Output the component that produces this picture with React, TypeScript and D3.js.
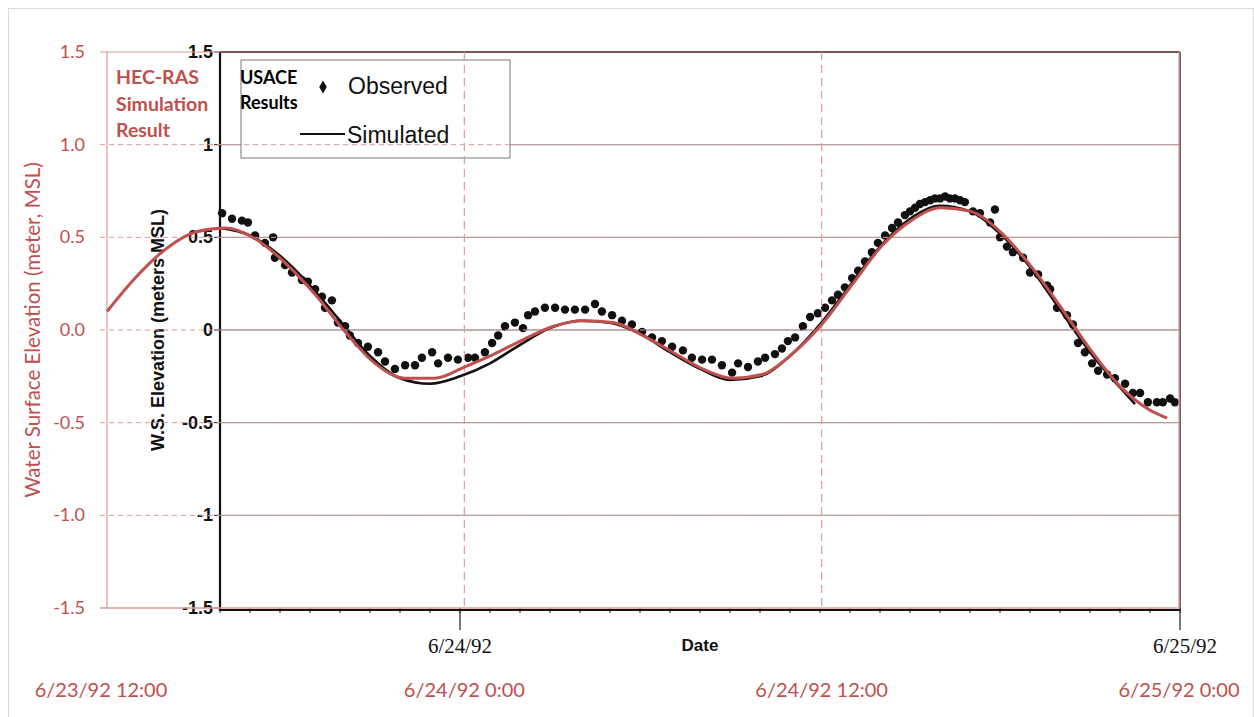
import React from 'react';
import * as d3 from 'd3';

// USACE simulated water surface (hours after 6/23/92 16:00, metres MSL)
const simHours = [0, 1, 2, 3, 4, 5, 6, 7, 8, 9, 10, 11, 12, 13, 14, 15, 16, 17, 18, 19, 20, 21, 22, 23, 24, 25, 26, 27, 28, 29, 30, 30.5];
const simValues = [0.55, 0.51, 0.40, 0.24, 0.05, -0.14, -0.26, -0.29, -0.25, -0.18, -0.08, 0.01, 0.05, 0.04, -0.02, -0.12, -0.21, -0.27, -0.25, -0.14, 0.03, 0.24, 0.45, 0.60, 0.67, 0.64, 0.52, 0.34, 0.11, -0.12, -0.31, -0.40];

// USACE observed points (hours after 6/23/92 16:00)
const obsHours = [0.07, 0.4, 0.73, 0.93, 1.17, 1.5, 1.77, 1.83, 2.17, 2.4, 2.73, 2.93, 3.17, 3.4, 3.5, 3.73, 3.93, 4.17, 4.33, 4.6, 4.93, 5.27, 5.5, 5.83, 6.17, 6.5, 6.73, 7.07, 7.27, 7.6, 7.93, 8.27, 8.5, 8.83, 9.07, 9.27, 9.5, 9.83, 10.1, 10.27, 10.5, 10.83, 11.17, 11.5, 11.83, 12.17, 12.5, 12.73, 13.07, 13.4, 13.73, 14.07, 14.4, 14.73, 15.07, 15.43, 15.73, 16.07, 16.4, 16.73, 17.07, 17.27, 17.6, 17.93, 18.17, 18.5, 18.73, 18.93, 19.17, 19.43, 19.67, 19.93, 20.17, 20.4, 20.6, 20.83, 21.07, 21.27, 21.5, 21.73, 21.93, 22.17, 22.4, 22.6, 22.83, 23.0, 23.17, 23.33, 23.5, 23.67, 23.83, 24.0, 24.17, 24.33, 24.5, 24.67, 24.83, 25.1, 25.33, 25.67, 25.83, 26.0, 26.23, 26.43, 26.77, 27.0, 27.27, 27.57, 27.67, 27.9, 28.23, 28.43, 28.6, 28.83, 29.07, 29.27, 29.57, 29.83, 30.17, 30.43, 30.67, 30.93, 31.23, 31.43, 31.67, 31.83];
const obsValues = [0.63, 0.60, 0.59, 0.58, 0.51, 0.47, 0.50, 0.39, 0.35, 0.31, 0.27, 0.26, 0.22, 0.18, 0.12, 0.16, 0.04, 0.02, -0.03, -0.07, -0.09, -0.12, -0.17, -0.21, -0.19, -0.19, -0.15, -0.12, -0.18, -0.15, -0.16, -0.15, -0.15, -0.12, -0.07, -0.03, 0.02, 0.04, 0.01, 0.08, 0.10, 0.12, 0.12, 0.11, 0.11, 0.11, 0.14, 0.10, 0.08, 0.05, 0.03, -0.01, -0.04, -0.06, -0.09, -0.11, -0.15, -0.16, -0.16, -0.19, -0.23, -0.18, -0.20, -0.17, -0.15, -0.13, -0.10, -0.06, -0.04, 0.02, 0.07, 0.09, 0.12, 0.16, 0.19, 0.23, 0.28, 0.32, 0.37, 0.42, 0.47, 0.51, 0.55, 0.58, 0.62, 0.64, 0.66, 0.68, 0.69, 0.70, 0.71, 0.71, 0.72, 0.71, 0.71, 0.70, 0.69, 0.64, 0.63, 0.58, 0.65, 0.50, 0.45, 0.42, 0.39, 0.31, 0.30, 0.24, 0.22, 0.12, 0.08, 0.03, -0.07, -0.12, -0.18, -0.22, -0.24, -0.26, -0.29, -0.34, -0.34, -0.39, -0.39, -0.39, -0.37, -0.39];

// HEC-RAS simulation (hours after 6/23/92 12:00)
const hecHours = [0, 1, 2, 3, 4, 5, 6, 7, 8, 9, 10, 11, 12, 13, 14, 15, 16, 17, 18, 19, 20, 21, 22, 23, 24, 25, 26, 27, 28, 29, 30, 31, 32, 33, 34, 35, 35.6];
const hecValues = [0.10, 0.29, 0.44, 0.53, 0.55, 0.49, 0.36, 0.19, -0.01, -0.18, -0.26, -0.26, -0.20, -0.13, -0.05, 0.02, 0.05, 0.04, -0.03, -0.12, -0.21, -0.26, -0.24, -0.13, 0.03, 0.24, 0.45, 0.59, 0.66, 0.64, 0.53, 0.35, 0.13, -0.10, -0.30, -0.43, -0.475];

const blackYTicks = [1.5, 1, 0.5, 0, -0.5, -1, -1.5];
const redYTicks = [1.5, 1.0, 0.5, 0.0, -0.5, -1.0, -1.5];
const redXTickLabels = ['6/23/92 12:00', '6/24/92 0:00', '6/24/92 12:00', '6/25/92 0:00'];
const blackXTickLabels = ['6/24/92', '6/25/92'];

const RED = '#c0504d';
const RED_LIGHT = '#e09a98';

const usaceStart = new Date(1992, 5, 23, 16);
const hecStart = new Date(1992, 5, 23, 12);
const endDate = new Date(1992, 5, 25, 0);
const addH = (d: Date, h: number) => new Date(d.getTime() + h * 3600e3);

export default function App() {
  const xB = d3.scaleTime().domain([usaceStart, endDate]).range([220, 1180]);
  const yB = d3.scaleLinear().domain([-1.5, 1.5]).range([608, 52]);
  const xR = d3.scaleTime().domain([hecStart, endDate]).range([107, 1179]);
  const yR = d3.scaleLinear().domain([-1.5, 1.5]).range([608, 52]);

  const simLine = d3.line<number>()
    .x((_, i) => xB(addH(usaceStart, simHours[i])))
    .y(d => yB(d))
    .curve(d3.curveMonotoneX);
  const hecLine = d3.line<number>()
    .x((_, i) => xR(addH(hecStart, hecHours[i])))
    .y(d => yR(d))
    .curve(d3.curveMonotoneX);

  const hourTicks = xB.ticks(d3.timeHour.every(1)!);
  const redXTicks = redXTickLabels.map((_, i) => addH(hecStart, i * 12));
  const blackXTicks = blackXTickLabels.map((_, i) => addH(new Date(1992, 5, 24), i * 24));
  const latin = 'Lato, "Open Sans", sans-serif';
  const arial = '"Liberation Sans", Arial, sans-serif';

  return (
    <svg width={1254} height={717} style={{ position: 'absolute', left: 0, top: 0, background: '#fff' }}>
      <rect x={8.5} y={8.5} width={1245} height={720} fill="none" stroke="#d9d9d9" />

      {/* USACE chart */}
      {blackYTicks.filter(t => Math.abs(t) < 1.5).map(t => (
        <line key={'bg' + t} x1={220} x2={1180} y1={yB(t)} y2={yB(t)} stroke="#777" strokeWidth={1.3} opacity={0.7} />
      ))}
      {hourTicks.map((t, i) => (
        <line key={'ht' + i} x1={xB(t)} x2={xB(t)} y1={608} y2={613} stroke="#222" strokeWidth={1} />
      ))}
      {blackXTicks.map((t, i) => (
        <g key={'bx' + i}>
          <line x1={xB(t)} x2={xB(t)} y1={608} y2={630} stroke="#222" strokeWidth={1.2} />
          <text x={xB(t) + (i === 1 ? 5 : 0)} y={653} textAnchor="middle" fontFamily='"Liberation Serif", serif' fontSize={21} fill="#111">{blackXTickLabels[i]}</text>
        </g>
      ))}
      <text x={700} y={651} textAnchor="middle" fontFamily={arial} fontWeight="bold" fontSize={17} fill="#111">Date</text>
      {blackYTicks.map(t => (
        <g key={'by' + t}>
          <line x1={214} x2={220} y1={yB(t)} y2={yB(t)} stroke="#222" />
          <text x={213} y={yB(t) + 6} textAnchor="end" fontFamily={arial} fontWeight="bold" fontSize={18} fill="#111">{t}</text>
        </g>
      ))}
      <text transform="translate(164,330) rotate(-90)" textAnchor="middle" fontFamily={arial} fontWeight="bold" fontSize={18} fill="#111">W.S. Elevation (meters MSL)</text>
      <path d={`M220,52V610H1180`} fill="none" stroke="#111" strokeWidth={2.2} />
      <line x1={220} x2={1180} y1={52} y2={52} stroke="#111" strokeWidth={2} />
      <line x1={1180} x2={1180} y1={52} y2={610} stroke="#333" strokeWidth={1.5} />

      <path d={simLine(simValues) || ''} fill="none" stroke="#111" strokeWidth={2.6} />
      {obsValues.map((v, i) => (
        <circle key={'o' + i} cx={xB(addH(usaceStart, obsHours[i]))} cy={yB(v)} r={4.2} fill="#111" />
      ))}

      {/* legend */}
      <rect x={241} y={60} width={269} height={98} fill="#fff" stroke="#777" strokeWidth={1} />
      <text x={240} y={84} fontFamily={latin} fontWeight="bold" fontSize={18} fill="#000">USACE</text>
      <text x={240} y={109} fontFamily={latin} fontWeight="bold" fontSize={18} fill="#000">Results</text>
      <path d={d3.symbol(d3.symbolDiamond, 50)() || ''} transform="translate(323,87)" fill="#111" />
      <text x={348} y={94} fontFamily={arial} fontSize={23} fill="#111">Observed</text>
      <line x1={300} x2={345} y1={134} y2={134} stroke="#111" strokeWidth={2} />
      <text x={347} y={143} fontFamily={arial} fontSize={23} fill="#111">Simulated</text>

      {/* HEC-RAS overlay */}
      {redYTicks.filter(t => Math.abs(t) < 1.5).map(t => (
        <line key={'rg' + t} x1={100} x2={1180} y1={yR(t)} y2={yR(t)} stroke={RED_LIGHT} strokeWidth={1} strokeDasharray="5,4" />
      ))}
      {redXTicks.slice(1, 3).map((t, i) => (
        <line key={'rv' + i} x1={xR(t)} x2={xR(t)} y1={52} y2={608} stroke={RED_LIGHT} strokeWidth={1.2} strokeDasharray="8,5" />
      ))}
      <line x1={107} x2={107} y1={52} y2={608} stroke={RED_LIGHT} strokeWidth={1.2} />
      <line x1={100} x2={1180} y1={52} y2={52} stroke={RED_LIGHT} strokeWidth={1.2} />
      <line x1={100} x2={1180} y1={608} y2={608} stroke={RED_LIGHT} strokeWidth={1.5} />
      <line x1={1179} x2={1179} y1={52} y2={608} stroke={RED_LIGHT} strokeWidth={1.2} />
      {redYTicks.map(t => (
        <text key={'ry' + t} x={85} y={yR(t) + 6} textAnchor="end" fontFamily={latin} fontSize={18} fill={RED}>{t.toFixed(1)}</text>
      ))}
      {redXTicks.map((t, i) => (
        <text key={'rx' + i} x={xR(t) - (i === 0 ? 6 : 0)} y={697} textAnchor="middle" fontFamily={latin} fontSize={20} fill={RED}>{redXTickLabels[i]}</text>
      ))}
      <text transform="translate(40,330) rotate(-90)" textAnchor="middle" fontFamily={latin} fontSize={20.5} fill={RED}>Water Surface Elevation (meter, MSL)</text>
      <text fontFamily={latin} fontWeight="bold" fontSize={19.5} fill={RED}>
        <tspan x={116} y={84}>HEC-RAS</tspan>
        <tspan x={116} y={111}>Simulation</tspan>
        <tspan x={116} y={137}>Result</tspan>
      </text>
      <path d={hecLine(hecValues) || ''} fill="none" stroke={RED} strokeWidth={3} />
    </svg>
  );
}
